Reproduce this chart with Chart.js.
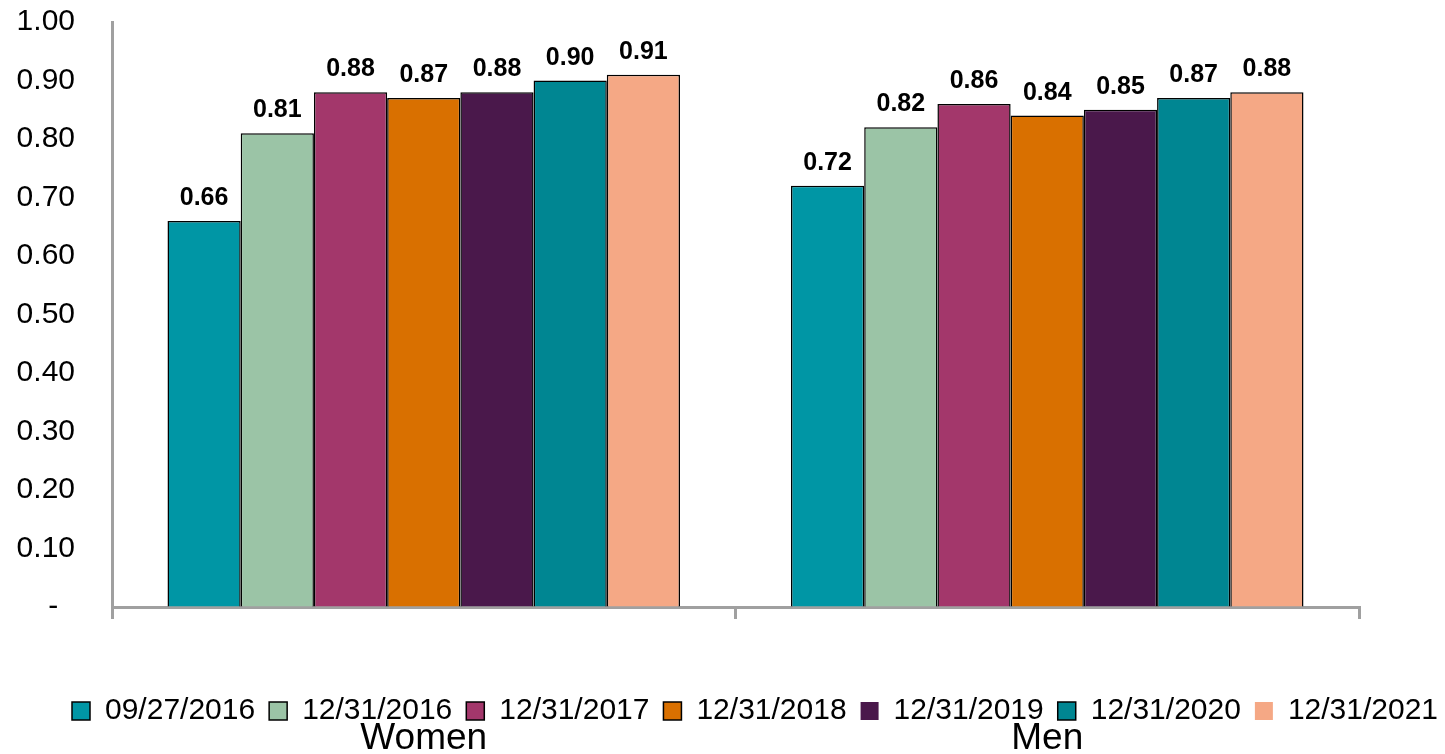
<!DOCTYPE html>
<html>
<head>
<meta charset="utf-8">
<script src="https://cdn.jsdelivr.net/npm/chart.js@4/dist/chart.umd.min.js"></script>
<style>
  html, body { margin: 0; padding: 0; background: #ffffff; }
  #wrap { width: 1445px; height: 754px; }
</style>
</head>
<body>
<div id="wrap"><canvas id="c" width="1445" height="754"></canvas></div>
<script>
// ---- data ----
const categories = ['Women', 'Men'];
const seriesLabels = ['09/27/2016', '12/31/2016', '12/31/2017', '12/31/2018', '12/31/2019', '12/31/2020', '12/31/2021'];
const values_2016_09 = [0.66, 0.72];
const values_2016_12 = [0.81, 0.82];
const values_2017 = [0.88, 0.86];
const values_2018 = [0.87, 0.84];
const values_2019 = [0.88, 0.85];
const values_2020 = [0.90, 0.87];
const values_2021 = [0.91, 0.88];
const yTickLabels = ['-', '0.10', '0.20', '0.30', '0.40', '0.50', '0.60', '0.70', '0.80', '0.90', '1.00'];

const seriesValues = [values_2016_09, values_2016_12, values_2017, values_2018, values_2019, values_2020, values_2021];
const seriesColors = ['#0096A5', '#9BC4A6', '#A3376B', '#D97000', '#4A184B', '#008692', '#F5A885'];
const legendNoBorder = [4, 6];

const FONT = "'Liberation Sans', Arial, Helvetica, sans-serif";

const dataLabelPlugin = {
  id: 'dataLabels',
  afterDatasetsDraw(chart) {
    const ctx = chart.ctx;
    ctx.save();
    ctx.font = 'bold 25px ' + FONT;
    ctx.fillStyle = '#000000';
    ctx.textAlign = 'center';
    ctx.textBaseline = 'alphabetic';
    chart.data.datasets.forEach((ds, i) => {
      const meta = chart.getDatasetMeta(i);
      meta.data.forEach((bar, j) => {
        ctx.fillText(ds.data[j].toFixed(2), bar.x, bar.y - 16);
      });
    });
    ctx.restore();
  }
};

// category names drawn under the legend, at the x scale's category centres
const categoryLabelPlugin = {
  id: 'categoryLabels',
  afterDraw(chart) {
    const ctx = chart.ctx;
    const xs = chart.scales.x;
    ctx.save();
    ctx.font = '37px ' + FONT;
    ctx.fillStyle = '#000000';
    ctx.textAlign = 'center';
    ctx.textBaseline = 'alphabetic';
    chart.data.labels.forEach((lab, i) => {
      ctx.fillText(lab, xs.getPixelForTick(i), 749);
    });
    ctx.restore();
  }
};

// shift legend row to start where the reference starts
const legendShiftPlugin = {
  id: 'legendShift',
  afterLayout(chart) {
    if (chart.legend) {
      chart.legend.left += 58;
      chart.legend.right += 58;
    }
  }
};

const chart = new Chart(document.getElementById('c'), {
  type: 'bar',
  data: {
    labels: categories,
    datasets: seriesLabels.map((lab, i) => ({
      label: lab,
      data: seriesValues[i],
      backgroundColor: seriesColors[i],
      borderColor: '#000000',
      borderWidth: 1.5,
      categoryPercentage: 0.822,
      barPercentage: 1.0
    }))
  },
  options: {
    responsive: false,
    animation: false,
    devicePixelRatio: 1,
    layout: { padding: { left: 0, right: 0, top: 22, bottom: 18 } },
    plugins: {
      tooltip: { enabled: false },
      legend: {
        position: 'bottom',
        align: 'start',
        labels: {
          font: { family: FONT, size: 30 },
          color: '#000000',
          boxWidth: 18,
          boxHeight: 18,
          padding: 14,
          generateLabels(chart) {
            const items = Chart.defaults.plugins.legend.labels.generateLabels(chart);
            items.forEach((it, i) => {
              if (legendNoBorder.includes(i)) { it.lineWidth = 0; it.strokeStyle = it.fillStyle; }
            });
            return items;
          }
        }
      }
    },
    scales: {
      x: {
        offset: true,
        grid: {
          display: true,
          offset: true,
          drawOnChartArea: false,
          drawTicks: true,
          tickLength: 12,
          color: '#A0A0A0',
          lineWidth: 3
        },
        border: { display: true, color: '#A0A0A0', width: 3 },
        ticks: { display: false },
        afterFit(scale) { scale.height = 75; }
      },
      y: {
        min: 0,
        max: 1,
        grid: {
          display: true,
          drawOnChartArea: false,
          drawTicks: true,
          tickLength: 33,
          tickColor: 'rgba(0,0,0,0)'
        },
        border: { display: true, color: '#A0A0A0', width: 3 },
        ticks: {
          stepSize: 0.1,
          font: { family: FONT, size: 30 },
          color: '#000000',
          padding: 4,
          callback(v, i) { return yTickLabels[i] === '-' ? '-  ' : yTickLabels[i]; }
        },
        afterFit(scale) { scale.width = 112; }
      },
      yRight: {
        position: 'right',
        min: 0,
        max: 1,
        display: true,
        grid: { display: false },
        border: { display: false },
        ticks: { display: false },
        afterFit(scale) { scale.width = 86; }
      }
    }
  },
  plugins: [dataLabelPlugin, categoryLabelPlugin, legendShiftPlugin]
});
</script>
</body>
</html>
